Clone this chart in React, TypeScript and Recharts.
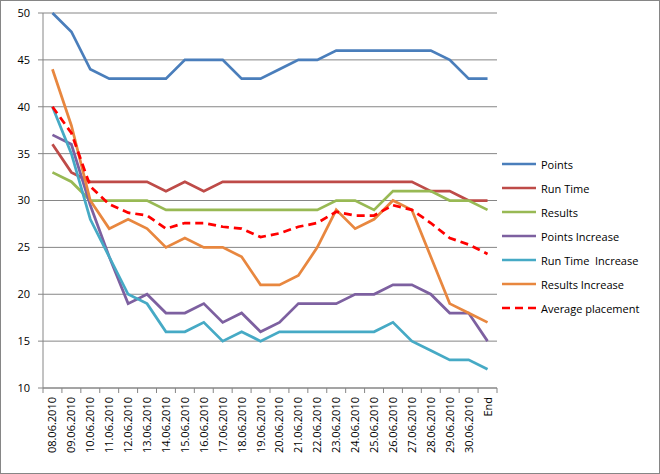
import React from "react";
import { CartesianGrid, Line, LineChart, XAxis, YAxis } from "recharts";

const categories = [
  "08.06.2010", "09.06.2010", "10.06.2010", "11.06.2010", "12.06.2010", "13.06.2010",
  "14.06.2010", "15.06.2010", "16.06.2010", "17.06.2010", "18.06.2010", "19.06.2010",
  "20.06.2010", "21.06.2010", "22.06.2010", "23.06.2010", "24.06.2010", "25.06.2010",
  "26.06.2010", "27.06.2010", "28.06.2010", "29.06.2010", "30.06.2010", "End",
];

const points = [50, 48, 44, 43, 43, 43, 43, 45, 45, 45, 43, 43, 44, 45, 45, 46, 46, 46, 46, 46, 46, 45, 43, 43];
const runTime = [36, 33, 32, 32, 32, 32, 31, 32, 31, 32, 32, 32, 32, 32, 32, 32, 32, 32, 32, 32, 31, 31, 30, 30];
const results = [33, 32, 30, 30, 30, 30, 29, 29, 29, 29, 29, 29, 29, 29, 29, 30, 30, 29, 31, 31, 31, 30, 30, 29];
const pointsIncrease = [37, 36, 29.5, 24, 19, 20, 18, 18, 19, 17, 18, 16, 17, 19, 19, 19, 20, 20, 21, 21, 20, 18, 18, 15];
const runTimeIncrease = [40, 35, 28, 24, 20, 19, 16, 16, 17, 15, 16, 15, 16, 16, 16, 16, 16, 16, 17, 15, 14, 13, 13, 12];
const resultsIncrease = [44, 38, 30, 27, 28, 27, 25, 26, 25, 25, 24, 21, 21, 22, 25, 29, 27, 28, 30, 29, 24, 19, 18, 17];
const averagePlacement = [40, 37.2, 31.5, 29.6, 28.7, 28.4, 27, 27.6, 27.6, 27.2, 27, 26.1, 26.5, 27.2, 27.6, 28.8, 28.4, 28.4, 29.5, 29, 27.6, 26, 25.3, 24.3];

const yTicks = [10, 15, 20, 25, 30, 35, 40, 45, 50];

const series = [
  { key: "points", name: "Points", color: "#4A7EBB", values: points, dash: undefined },
  { key: "runTime", name: "Run Time", color: "#BE4B48", values: runTime, dash: undefined },
  { key: "results", name: "Results", color: "#98B954", values: results, dash: undefined },
  { key: "pointsIncrease", name: "Points Increase", color: "#7D60A0", values: pointsIncrease, dash: undefined },
  { key: "runTimeIncrease", name: "Run Time  Increase", color: "#46AAC5", values: runTimeIncrease, dash: undefined },
  { key: "resultsIncrease", name: "Results Increase", color: "#E8873F", values: resultsIncrease, dash: undefined },
  { key: "averagePlacement", name: "Average placement", color: "#FF0000", values: averagePlacement, dash: "8 5" },
];

const data = categories.map((c, i) => {
  const row: Record<string, string | number> = { label: c };
  series.forEach((s) => {
    row[s.key] = s.values[i];
  });
  return row;
});

const FONT = "'Open Sans', sans-serif";
const GRID = "#868686";
const PLOT_LEFT = 43;
const PLOT_RIGHT = 497;
const BAND = (PLOT_RIGHT - PLOT_LEFT) / categories.length;

function XTick(props: any) {
  const { x, y, payload, index } = props;
  const isLast = index === categories.length - 1;
  return (
    <g>
      <line x1={x - BAND / 2} x2={x - BAND / 2} y1={y} y2={y + 5} stroke={GRID} />
      {isLast && <line x1={x + BAND / 2} x2={x + BAND / 2} y1={y} y2={y + 5} stroke={GRID} />}
      <text
        x={0}
        y={0}
        transform={`translate(${x + 4},${y + 9}) rotate(-90)`}
        textAnchor="end"
        fontSize={11}
        fontFamily={FONT}
        fill="#000"
      >
        {payload.value}
      </text>
    </g>
  );
}

function ChartLegend() {
  return (
    <div style={{ position: "absolute", left: 502, top: 152, fontFamily: FONT, fontSize: 11, color: "#000" }}>
      {series.map((s) => (
        <div key={s.key} style={{ display: "flex", alignItems: "center", height: 24 }}>
          <svg width={34} height={6} style={{ marginRight: 5 }}>
            <line x1={0} x2={34} y1={3} y2={3} stroke={s.color} strokeWidth={2.5} strokeDasharray={s.dash ? "8 5" : undefined} />
          </svg>
          <span style={{ whiteSpace: "pre" }}>{s.name}</span>
        </div>
      ))}
    </div>
  );
}

export default function App() {
  return (
    <div style={{ position: "relative", width: 660, height: 474 }}>
      <style>{`body{margin:0}`}</style>
      <LineChart width={660} height={474} data={data} margin={{ top: 13, right: 163, bottom: 16, left: 8 }}>
        <CartesianGrid vertical={false} stroke={GRID} strokeWidth={1} />
        <XAxis
          dataKey="label"
          scale="band"
          interval={0}
          height={70}
          tickLine={false}
          tickSize={0}
          tickMargin={0}
          axisLine={{ stroke: GRID }}
          tick={<XTick />}
        />
        <YAxis
          domain={[10, 50]}
          ticks={yTicks}
          width={35}
          tickLine={{ stroke: GRID }}
          tickSize={5}
          tickMargin={8}
          axisLine={{ stroke: GRID }}
          tick={{ fontSize: 11, fontFamily: FONT, fill: "#000" }}
          interval={0}
        />
        {series.map((s) => (
          <Line
            key={s.key}
            dataKey={s.key}
            name={s.name}
            stroke={s.color}
            strokeWidth={2.75}
            strokeDasharray={s.dash}
            dot={false}
            activeDot={false}
            type="linear"
            isAnimationActive={false}
          />
        ))}
      </LineChart>
      <ChartLegend />
      <div style={{ position: "absolute", inset: 0, border: `1px solid ${GRID}`, boxSizing: "border-box", pointerEvents: "none" }} />
    </div>
  );
}
